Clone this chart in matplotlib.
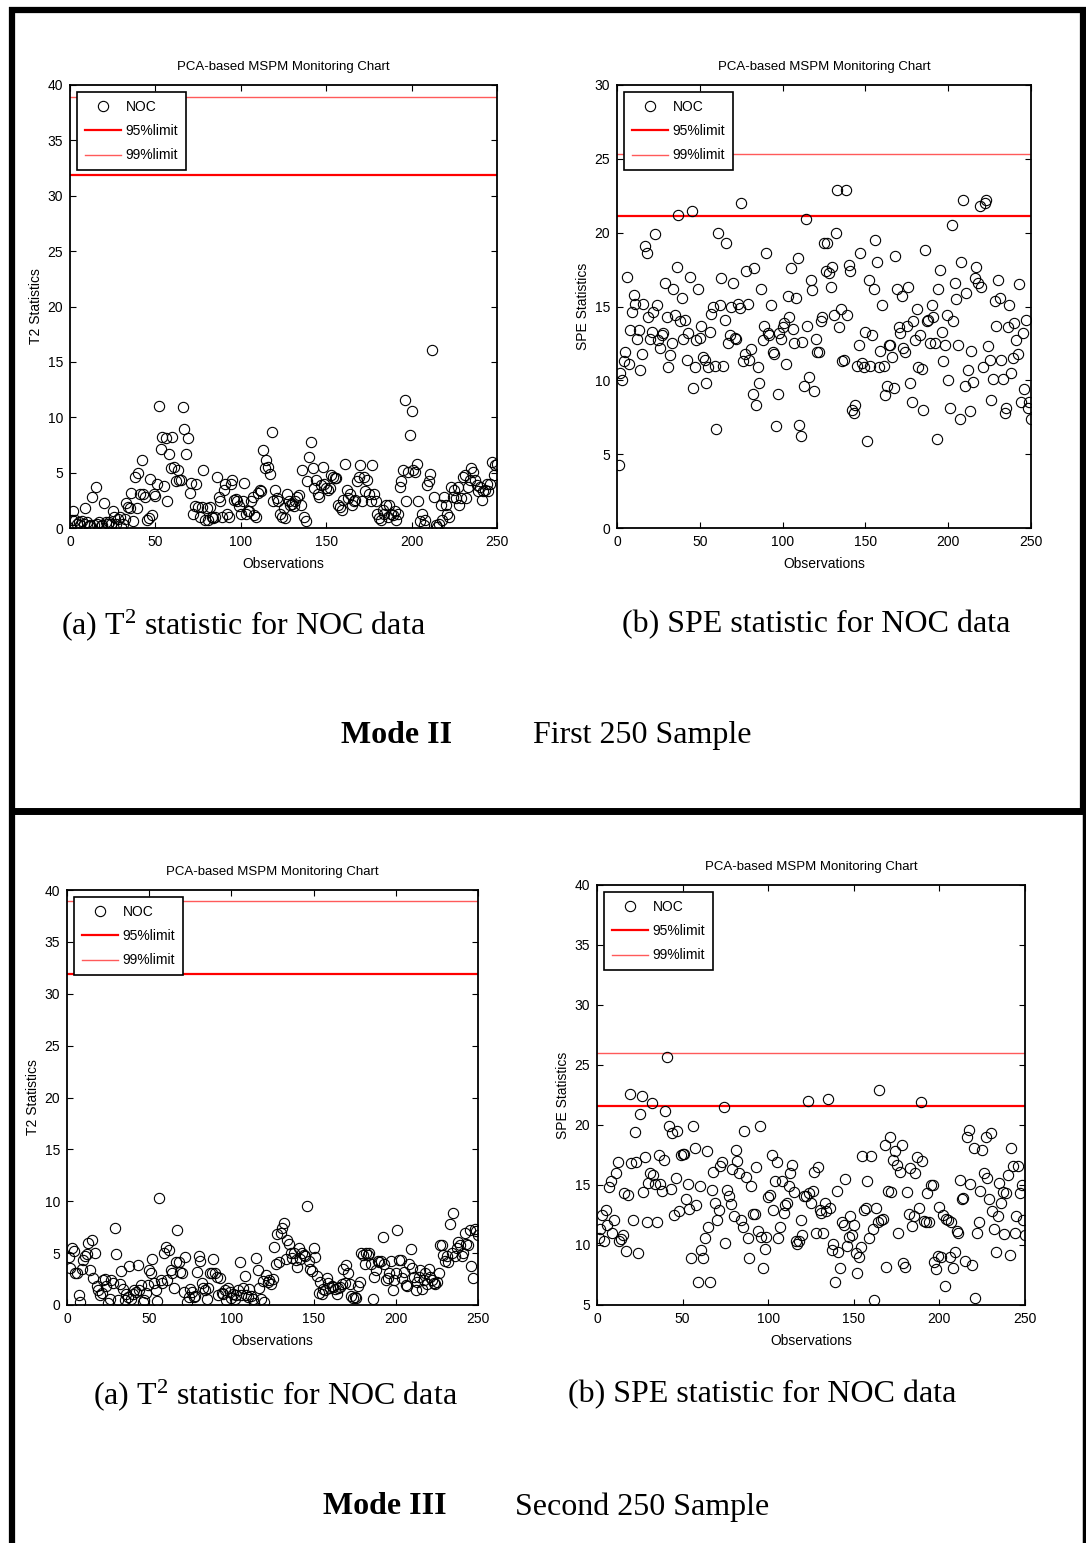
import numpy as np
import matplotlib
matplotlib.use("Agg")
import matplotlib.pyplot as plt
from matplotlib.lines import Line2D
from matplotlib import font_manager

# ---------------- data ----------------
t2_mode2 = [
    0.7,1.5,0.7,0.4,0.5,0.3,0.6,0.4,1.8,0.5,
    0.2,0.3,2.8,0.3,3.7,0.4,0.5,0.2,0.3,2.3,
    0.5,0.4,0.5,0.4,1.5,1.0,0.4,0.8,1.0,0.1,
    0.4,0.8,2.3,1.9,1.8,3.2,0.6,4.6,1.8,5.0,
    3.1,6.1,3.1,2.8,0.7,0.9,4.4,1.2,3.1,2.9,
    4.0,11.0,7.1,8.2,3.8,8.1,2.4,6.7,5.4,8.2,
    5.5,4.2,5.2,4.3,4.3,10.9,8.9,6.7,8.1,3.2,
    4.1,1.3,2.0,4.0,1.9,1.0,1.9,5.2,0.7,1.8,
    0.7,1.9,1.0,0.9,1.0,4.6,2.8,2.4,1.0,3.4,
    4.0,1.3,1.0,4.0,4.3,2.5,2.6,2.4,2.0,1.3,
    2.4,4.1,1.3,1.5,1.5,2.4,2.8,1.2,1.0,3.2,
    3.4,3.3,7.0,5.4,6.1,5.5,4.9,8.7,2.4,3.4,
    2.7,2.4,1.3,1.0,1.8,0.9,3.1,2.4,2.1,2.2,2.0,2.4,
    2.8,3.0,2.1,5.2,1.0,0.6,4.2,6.4,7.8,5.4,
    3.6,4.3,3.1,2.8,3.9,5.5,4.0,3.6,3.4,3.6,
    4.8,4.6,4.5,4.5,2.1,1.9,1.6,2.5,5.8,3.4,
    2.7,3.1,2.1,2.4,2.5,4.2,4.6,5.7,2.4,4.6,
    3.3,4.3,3.1,2.4,5.7,3.1,2.4,1.3,0.9,0.7,
    1.6,1.3,2.1,1.0,2.1,1.3,1.2,1.5,0.7,1.3,3.7,4.2,
    5.2,11.6,2.4,5.1,8.4,10.6,5.2,5.1,5.8,2.4,
    0.6,1.3,0.3,0.7,3.9,4.2,4.9,16.1,2.8,0.3,
    0.1,0.4,2.1,0.7,2.8,2.1,1.3,1.0,3.7,2.8,
    3.4,2.7,3.7,2.1,2.7,4.6,4.8,2.7,3.7,4.3,
    5.4,5.1,4.3,3.9,3.3,3.7,2.5,3.3,3.4,4.0,
    3.3,4.0,6.0,4.8,5.7,5.8,
]

spe_mode2 = [
    4.3,10.5,10.0,11.3,11.9,17.0,11.1,13.4,14.6,15.8,
    15.2,12.8,13.4,10.7,11.8,15.2,19.1,18.6,14.3,12.8,
    13.3,14.6,19.9,15.1,12.7,12.2,13.1,13.2,16.6,14.3,
    10.9,11.7,12.5,16.2,14.4,17.7,21.2,14.0,15.6,12.8,
    14.1,11.4,13.2,17.0,21.5,9.5,10.9,12.7,16.2,12.9,
    13.7,11.6,11.4,9.8,10.9,13.3,14.5,15.0,11.0,6.7,
    20.0,15.1,16.9,11.0,14.1,19.3,12.5,13.1,15.0,16.6,
    12.9,12.8,15.2,14.9,22.0,11.3,11.8,17.4,15.2,11.4,
    12.1,9.1,17.6,8.3,10.9,9.8,16.2,12.7,13.7,18.6,
    13.2,13.1,15.1,11.9,11.8,6.9,9.1,13.2,12.8,13.6,
    13.9,11.1,15.7,14.3,17.6,13.5,12.5,15.6,18.3,7.0,
    6.2,12.6,9.6,20.9,13.7,10.2,16.8,16.1,9.3,12.8,
    11.9,11.9,14.0,14.3,19.3,17.4,
    19.3,17.3,16.3,17.7,14.4,20.0,22.9,13.6,14.8,11.3,
    11.4,22.9,14.4,17.8,17.4,8.0,7.8,8.3,11.0,12.4,
    18.6,11.2,10.9,13.3,5.9,16.8,11.0,13.1,16.2,19.5,
    18.0,10.9,12.0,15.1,11.0,9.0,9.6,12.4,12.4,11.6,9.5,
    18.4,16.2,13.6,13.2,15.7,12.2,11.9,13.7,16.3,9.8,
    8.5,14.0,12.7,14.8,10.9,13.1,10.8,8.0,18.8,14.0,
    14.1,12.5,15.1,14.3,12.5,6.0,16.2,17.5,13.3,11.3,
    12.4,14.4,10.0,8.1,20.5,14.0,16.6,15.5,12.4,7.4,
    18.0,22.2,9.6,15.9,10.7,7.9,12.0,9.9,16.9,17.7,
    16.6,21.8,16.3,10.9,22.0,22.2,12.3,11.4,8.7,10.1,15.4,
    13.7,16.8,15.6,11.4,10.1,7.8,8.1,13.6,15.1,10.5,11.5,
    13.9,12.7,11.8,16.5,8.5,13.2,9.4,14.1,8.1,8.5,
    7.4,
]

t2_mode3 = [
    4.6,3.6,5.5,5.2,3.1,3.1,1.0,0.3,3.5,4.3,
    4.7,4.9,6.0,3.4,6.3,2.6,5.0,1.8,1.4,1.0,1.2,
    2.4,2.5,1.8,0.2,0.6,2.4,2.1,7.4,4.9,0.5,2.0,
    3.3,1.5,0.5,1.1,0.8,3.8,0.6,1.1,1.4,1.3,3.9,
    1.4,1.9,0.3,0.5,1.2,1.9,3.4,3.1,4.4,2.1,1.4,0.4,
    10.3,2.4,2.1,5.0,5.6,2.4,5.3,3.4,3.1,1.6,
    4.1,7.2,4.1,3.2,3.1,1.3,4.6,0.3,0.8,1.5,
    1.3,0.8,0.9,3.2,4.7,4.2,2.1,1.6,1.4,0.6,
    1.6,3.1,3.1,4.4,3.1,2.7,1.0,2.6,1.2,1.1,1.4,
    0.5,1.6,1.3,0.7,1.1,0.6,1.0,1.4,4.1,1.0,1.6,
    2.8,1.0,0.8,1.5,0.9,0.6,0.2,4.5,3.4,1.6,0.6,2.3,
    0.3,2.9,2.2,2.4,2.0,2.5,5.6,4.0,6.8,
    4.1,6.9,7.4,7.9,4.4,6.3,5.9,5.0,4.5,5.0,
    4.3,3.7,5.5,4.4,5.0,4.8,4.7,9.5,4.2,3.5,
    3.3,5.5,4.6,2.8,1.2,2.2,1.1,1.5,1.4,2.6,
    2.1,1.6,1.8,1.7,1.5,1.1,1.6,1.7,2.0,3.5,
    2.1,3.9,3.1,2.0,0.9,0.7,0.8,0.7,1.8,2.2,
    5.0,4.8,4.0,5.0,4.8,5.0,4.0,0.6,2.7,3.4,
    4.2,4.1,4.2,6.6,4.0,2.4,2.6,3.1,4.2,1.4,
    2.4,3.1,7.2,4.3,4.3,2.6,3.2,1.9,1.8,4.0,
    5.4,3.6,2.7,1.4,2.2,2.7,3.4,1.5,2.4,3.1,
    2.0,3.5,2.7,2.4,2.1,2.0,2.2,3.1,5.8,5.8,
    4.8,4.2,4.7,4.1,7.8,5.0,8.9,4.7,5.5,6.1,
    5.8,4.7,5.0,6.9,5.9,5.8,7.2,3.8,2.6,7.3,
    7.1,6.7,
]

spe_mode3 = [
    10.6,11.3,12.5,10.3,12.9,11.7,14.8,15.3,11.0,12.1,
    16.0,16.9,10.3,10.5,10.8,14.3,9.5,14.2,22.6,16.8,
    12.1,19.4,16.9,9.3,20.9,22.4,14.4,17.3,11.9,15.2,
    16.0,21.8,15.8,15.1,11.9,17.5,15.1,14.5,17.1,21.2,
    25.7,19.9,14.7,19.3,12.5,15.6,19.5,12.8,17.5,17.6,
    17.6,13.8,15.1,13.0,8.9,19.9,18.1,13.3,6.9,14.9,
    9.6,8.9,10.6,17.8,11.5,6.9,14.6,16.1,13.5,12.1,
    12.9,16.6,16.9,21.5,10.2,14.6,14.1,13.4,16.3,12.4,
    17.9,17.0,16.0,12.1,11.5,19.5,15.7,10.6,8.9,14.9,
    12.6,12.6,16.5,11.2,19.9,10.7,8.1,9.7,10.7,14.0,
    14.2,17.5,12.9,15.3,16.9,10.6,11.5,15.3,12.7,13.3,
    13.5,14.9,16.0,16.7,14.4,10.3,10.1,10.3,12.1,10.8,
    14.1,14.1,22.0,
    14.3,13.5,14.5,16.1,11.0,16.5,12.9,12.7,11.0,13.5,
    12.8,22.2,13.1,9.6,10.1,6.9,14.5,9.4,8.1,11.9,
    11.7,15.5,9.9,10.7,12.4,10.8,11.7,9.3,7.7,9.0,
    9.8,17.4,12.9,13.1,15.3,10.6,17.4,11.3,5.4,13.1,
    11.9,22.9,12.1,12.2,18.3,8.2,14.5,19.0,14.4,17.1,
    17.8,16.7,11.0,16.1,18.3,8.5,8.2,14.4,12.6,16.4,
    11.6,12.4,16.0,17.3,13.1,21.9,17.0,12.0,11.9,14.3,
    11.9,15.0,15.0,8.6,8.0,9.1,13.2,9.0,12.5,6.6,
    12.2,12.1,9.0,11.9,8.1,9.4,11.2,11.0,15.4,13.8,
    13.9,8.7,19.0,19.6,15.1,8.3,18.1,5.6,11.0,11.9,
    14.5,17.9,16.0,19.0,15.6,13.8,19.3,12.8,11.3,9.4,
    12.4,15.2,13.5,14.4,10.9,14.3,15.8,9.2,18.1,16.6,
    11.0,12.4,16.6,14.3,15.0,12.1,10.8,
]

# control limits (95%, 99%)
lim_t2_mode2 = [31.9, 38.9]
lim_spe_mode2 = [21.1, 25.3]
lim_t2_mode3 = [31.9, 38.9]
lim_spe_mode3 = [21.6, 26.0]

x_ticks = [0, 50, 100, 150, 200, 250]
title_txt = "PCA-based MSPM Monitoring Chart"
legend_labels = ["NOC", "95%limit", "99%limit"]

# ---------------- styling ----------------
names = {f.name for f in font_manager.fontManager.ttflist}
SANS = ["Liberation Sans Narrow", "Liberation Sans", "DejaVu Sans"]
SANS = [f for f in SANS if f in names] or ["DejaVu Sans"]
SERIF = "Liberation Serif"

plt.rcParams["font.family"] = SANS
plt.rcParams["mathtext.fontset"] = "custom"
plt.rcParams["mathtext.rm"] = SERIF
plt.rcParams["mathtext.it"] = SERIF + ":italic"
plt.rcParams["mathtext.bf"] = SERIF + ":bold"

W, H = 1086, 1543
fig = plt.figure(figsize=(W / 100, H / 100), dpi=100)
fig.patch.set_facecolor("white")


def rect(l, t, r, b):
    return [l / W, 1 - b / H, (r - l) / W, (b - t) / H]


panels = [
    (rect(70, 85, 497, 528), t2_mode2, lim_t2_mode2, (0, 40), "T2 Statistics"),
    (rect(617, 85, 1031, 528), spe_mode2, lim_spe_mode2, (0, 30), "SPE Statistics"),
    (rect(67, 890, 478, 1305), t2_mode3, lim_t2_mode3, (0, 40), "T2 Statistics"),
    (rect(597, 885, 1025, 1305), spe_mode3, lim_spe_mode3, (5, 40), "SPE Statistics"),
]

for pos, vals, lims, ylim, ylab in panels:
    ax = fig.add_axes(pos)
    obs = np.arange(1, len(vals) + 1)
    ax.plot(obs, vals, "o", mfc="none", mec="black", ms=7.4, mew=0.8,
            label=legend_labels[0], zorder=3)
    ax.axhline(lims[0], color="#ff0000", lw=1.6, label=legend_labels[1], zorder=2)
    ax.axhline(lims[1], color="#ff5a5a", lw=1.0, label=legend_labels[2], zorder=2)
    ax.set_xlim(0, 250)
    ax.set_ylim(*ylim)
    ax.set_xticks(x_ticks)
    ax.set_yticks(np.arange(ylim[0], ylim[1] + 1, 5))
    ax.tick_params(direction="in", top=True, right=True, length=4, width=0.8,
                   labelsize=10, pad=5)
    for s in ax.spines.values():
        s.set_linewidth(1.3)
    ax.set_title(title_txt, fontsize=9.5, pad=11)
    ax.set_xlabel("Observations", fontsize=10, labelpad=6)
    ax.set_ylabel(ylab, fontsize=10, labelpad=3)
    leg = ax.legend(loc="upper left", fontsize=10, frameon=True, fancybox=False,
                    edgecolor="black", framealpha=1, handlelength=2.6,
                    handletextpad=0.35, labelspacing=0.75, borderpad=0.55,
                    borderaxespad=0.5)
    leg.get_frame().set_linewidth(1.2)

# ---------------- captions ----------------
cap_kw = dict(ha="center", va="center", fontsize=23, family=SERIF)
fig.text(243 / W, 1 - 625 / H, r"(a) T$^{2}$ statistic for NOC data", **cap_kw)
fig.text(816 / W, 1 - 625 / H, "(b) SPE statistic for NOC data", **cap_kw)
fig.text(397 / W, 1 - 736 / H, "Mode II", fontweight="bold", **cap_kw)
fig.text(642 / W, 1 - 736 / H, "First 250 Sample", **cap_kw)
fig.text(275 / W, 1 - 1395 / H, r"(a) T$^{2}$ statistic for NOC data", **cap_kw)
fig.text(762 / W, 1 - 1395 / H, "(b) SPE statistic for NOC data", **cap_kw)
fig.text(385 / W, 1 - 1507 / H, "Mode III", fontweight="bold", **cap_kw)
fig.text(642 / W, 1 - 1507 / H, "Second 250 Sample", **cap_kw)

# ---------------- frame borders ----------------
def hline(y, x0, x1, lw):
    fig.add_artist(Line2D([x0 / W, x1 / W], [1 - y / H, 1 - y / H],
                          color="black", lw=lw, solid_capstyle="butt"))


def vline(x, y0, y1, lw):
    fig.add_artist(Line2D([x / W, x / W], [1 - y0 / H, 1 - y1 / H],
                          color="black", lw=lw, solid_capstyle="butt"))


hline(10, 9, 1086, 4.5)
hline(811, 9, 1086, 5.0)
vline(12, 7, 1543, 4.5)
vline(1083, 7, 811, 4.5)
vline(1084, 811, 1543, 2.5)

fig.savefig("out.png", dpi=100, facecolor="white")
